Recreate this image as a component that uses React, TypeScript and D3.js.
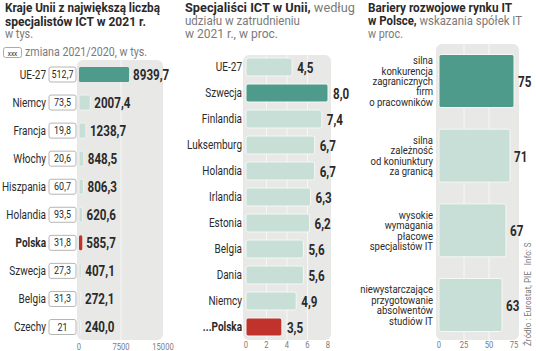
import * as d3 from 'd3';

const countries1 = ['UE-27', 'Niemcy', 'Francja', 'Włochy', 'Hiszpania', 'Holandia', 'Polska', 'Szwecja', 'Belgia', 'Czechy'];
const specialists = [8939.7, 2007.4, 1238.7, 848.5, 806.3, 620.6, 585.7, 407.1, 272.1, 240.0];
const change = ['512,7', '73,5', '19,8', '20,6', '60,7', '93,5', '31,8', '27,3', '31,3', '21'];
const ticks1 = [0, 7500, 15000];

const countries2 = ['UE-27', 'Szwecja', 'Finlandia', 'Luksemburg', 'Holandia', 'Irlandia', 'Estonia', 'Belgia', 'Dania', 'Niemcy', '...Polska'];
const shares = [4.5, 8.0, 7.4, 6.7, 6.7, 6.3, 6.2, 5.6, 5.6, 4.9, 3.5];
const ticks2 = [0, 2, 4, 6, 8];

const barriers = [
    ['silna', 'konkurencja', 'zagranicznych', 'firm', 'o pracowników'],
    ['silna', 'zależność', 'od koniunktury', 'za granicą'],
    ['wysokie', 'wymagania', 'płacowe', 'specjalistów IT'],
    ['niewystarczające', 'przygotowanie', 'absolwentów', 'studiów IT'],
];
const barrierValues = [75, 71, 67, 63];
const ticks3 = [0, 25, 50, 75];

const FONT = 'Roboto, "DejaVu Sans", sans-serif';
const BG = '#e8e8e6';
const DARK = '#4f9b8b';
const LIGHT = '#c7dfd6';
const RED = '#c0322b';
const TXT = '#2a2a2a';
const GREY = '#7a7a7a';

const fmt1 = (v: number) => v.toFixed(1).replace('.', ',');

// condensed text: the reference face is narrow, so squeeze Roboto horizontally
function T({ x, y, size, sx = 0.8, anchor = 'start', weight = 'normal', fill = TXT, children }: any) {
    return (
        <text transform={`translate(${x},${y}) scale(${sx},1)`} fontSize={size} textAnchor={anchor}
            fontWeight={weight} fill={fill}>{children}</text>
    );
}

// title line stretched to the measured width
function Title({ x, y, w, size, children, fill = GREY, weight = 'normal' }: any) {
    return (
        <text x={x} y={y} fontSize={size} textLength={w} lengthAdjust="spacingAndGlyphs"
            fill={fill} fontWeight={weight}>{children}</text>
    );
}

export default function App() {
    // panel 1
    const x1 = d3.scaleLinear().domain([0, 15000]).range([79, 163]);
    const y1 = d3.scalePoint<string>().domain(countries1).range([74.5, 327]);
    // panel 2
    const x2 = d3.scaleLinear().domain([0, 8]).range([246, 328]);
    const y2 = d3.scalePoint<string>().domain(countries2).range([67, 327]);
    // panel 3
    const x3 = d3.scaleLinear().domain([0, 75]).range([439, 514]);
    const y3 = d3.scalePoint<number>().domain(d3.range(barriers.length)).range([81, 305]);

    return (
        <svg width={536} height={351} style={{ position: 'absolute', left: 0, top: 0, background: '#fff' }}
            fontFamily={FONT}>
            {/* titles */}
            <Title x={5} y={12} w={155} size={13.5} weight="bold" fill={TXT}>Kraje Unii z największą liczbą</Title>
            <Title x={5} y={26} w={141} size={13.5} weight="bold" fill={TXT}>specjalistów ICT w 2021 r.</Title>
            <Title x={5} y={38} w={28} size={12.5}>w tys.</Title>
            <rect x={3.5} y={47.5} width={18} height={10} rx={2} fill="#fff" stroke="#aaa" />
            <T x={12.5} y={55.5} size={8} anchor="middle">xxx</T>
            <Title x={25} y={56} w={122} size={12}>zmiana 2021/2020, w tys.</Title>

            <Title x={185} y={12} w={170} size={13.5}>
                <tspan fontWeight="bold" fill={TXT}>Specjaliści ICT w Unii,</tspan> według
            </Title>
            <Title x={185} y={25} w={115} size={12.5}>udziału w zatrudnieniu</Title>
            <Title x={185} y={38} w={93} size={12.5}>w 2021 r., w proc.</Title>

            <Title x={368} y={12} w={144} size={13.5} weight="bold" fill={TXT}>Bariery rozwojowe rynku IT</Title>
            <Title x={368} y={25} w={154} size={13.5}>
                <tspan fontWeight="bold" fill={TXT}>w Polsce,</tspan> wskazania spółek IT
            </Title>
            <Title x={368} y={38} w={35} size={12.5}>w proc.</Title>

            {/* panel 1 */}
            <rect x={77} y={60} width={86} height={280} rx={6} fill={BG} />
            {ticks1.slice(1, -1).map(t => (
                <line key={t} x1={x1(t)} x2={x1(t)} y1={60} y2={340} stroke="#f7f7f5" strokeWidth={1} />
            ))}
            {countries1.map((c, i) => {
                const cy = y1(c)!;
                const fill = c === 'UE-27' ? DARK : c === 'Polska' ? RED : LIGHT;
                return (
                    <g key={c}>
                        <T x={46} y={cy + 4} size={12.5} anchor="end"
                            weight={c === 'Polska' ? 'bold' : 'normal'}>{c}</T>
                        <rect x={49} y={cy - 7.5} width={27} height={15} rx={2} fill="#fff" stroke="#b5b5b5" />
                        <T x={62.5} y={cy + 3.5} size={10.5} sx={0.85} anchor="middle">{change[i]}</T>
                        <rect x={x1(0)} y={cy - 7.5} width={Math.max(x1(specialists[i]) - x1(0), 1.5)} height={15} rx={1.5}
                            fill={fill} stroke={fill === LIGHT ? '#f4f8f6' : 'none'} strokeWidth={0.8} />
                        <T x={Math.max(x1(specialists[i]), x1(0) + 2) + 4} y={cy + 5} size={14} sx={0.83} weight="bold">
                            {fmt1(specialists[i])}
                        </T>
                    </g>
                );
            })}
            {ticks1.map(t => (
                <T key={t} x={x1(t)} y={350} size={9.5} anchor="middle" fill={GREY}>{t}</T>
            ))}

            {/* panel 2 */}
            <rect x={243} y={55} width={88} height={285} rx={6} fill={BG} />
            {ticks2.slice(1, -1).map(t => (
                <line key={t} x1={x2(t)} x2={x2(t)} y1={55} y2={340} stroke="#f7f7f5" strokeWidth={1} />
            ))}
            {countries2.map((c, i) => {
                const cy = y2(c)!;
                const fill = c === 'Szwecja' ? DARK : c === '...Polska' ? RED : LIGHT;
                return (
                    <g key={c}>
                        <T x={242} y={cy + 4} size={12.5} anchor="end"
                            weight={c === '...Polska' ? 'bold' : 'normal'}>{c}</T>
                        <rect x={x2(0)} y={cy - 9} width={x2(shares[i]) - x2(0)} height={18} rx={2}
                            fill={fill} stroke="#f4f8f6" strokeWidth={1} />
                        <T x={x2(shares[i]) + 5} y={cy + 6} size={14} sx={0.83} weight="bold">
                            {fmt1(shares[i])}
                        </T>
                    </g>
                );
            })}
            {ticks2.map(t => (
                <T key={t} x={x2(t)} y={348} size={9.5} anchor="middle" fill={GREY}>{t}</T>
            ))}

            {/* panel 3 */}
            <rect x={436} y={44} width={83} height={296} rx={6} fill={BG} />
            {ticks3.slice(1, -1).map(t => (
                <line key={t} x1={x3(t)} x2={x3(t)} y1={44} y2={340} stroke="#f7f7f5" strokeWidth={1} />
            ))}
            {barriers.map((lines, i) => {
                const cy = y3(i)!;
                const lh = 10.4;
                return (
                    <g key={i}>
                        {lines.map((l, j) => (
                            <T key={j} x={433} y={cy + (j - (lines.length - 1) / 2) * lh + 4} size={11.2} sx={0.85}
                                anchor="end">{l}</T>
                        ))}
                        <rect x={x3(0)} y={cy - 26.5} width={x3(barrierValues[i]) - x3(0)} height={53} rx={2}
                            fill={i === 0 ? DARK : LIGHT} stroke="#f4f8f6" strokeWidth={1} />
                        <T x={x3(barrierValues[i]) + 4} y={cy + 6} size={14} sx={0.83} weight="bold">
                            {barrierValues[i]}
                        </T>
                    </g>
                );
            })}
            {ticks3.map(t => (
                <T key={t} x={x3(t)} y={348} size={9.5} anchor="middle" fill={GREY}>{t}</T>
            ))}

            <text transform="translate(531,346) rotate(-90) scale(0.85,1)" fontSize={9.5} fill={GREY}>
                Źródło : Eurostat, PIE{'\u00a0\u00a0\u00a0'}Info: S
            </text>
        </svg>
    );
}
